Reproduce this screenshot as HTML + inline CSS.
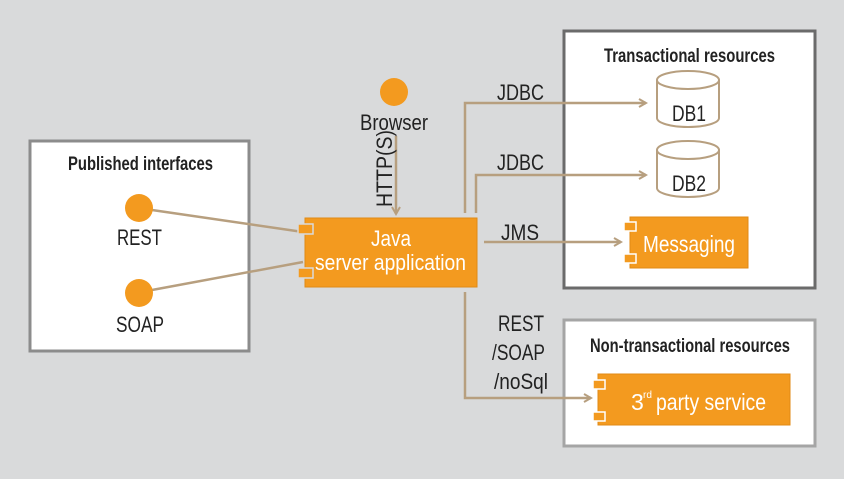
<!DOCTYPE html>
<html><head><style>
body{margin:0;background:#d9dadb;}
svg{display:block}
text{font-family:"Liberation Sans Narrow","Liberation Sans",sans-serif;}
</style></head><body>
<svg width="844" height="479" viewBox="0 0 844 479">
<rect width="844" height="479" fill="#d9dadb"/>
<defs><marker id="a" markerWidth="10" markerHeight="10" refX="8" refY="5" orient="auto" markerUnits="userSpaceOnUse"><path d="M1,1 L8,5 L1,9" fill="none" stroke="#b79f7f" stroke-width="2"/></marker></defs>
<rect x="30" y="141" width="219" height="210" fill="#fff" stroke="#8c8c8c" stroke-width="3"/>
<rect x="564" y="31" width="251" height="257" fill="#fff" stroke="#6b6b6b" stroke-width="3"/>
<rect x="564" y="320" width="251" height="126" fill="#fff" stroke="#a5a5a5" stroke-width="3"/>
<text x="68" y="170" font-size="19" font-weight="bold" fill="#222" textLength="145" lengthAdjust="spacingAndGlyphs">Published interfaces</text>
<text x="604" y="62" font-size="19" font-weight="bold" fill="#222" textLength="171" lengthAdjust="spacingAndGlyphs">Transactional resources</text>
<text x="590" y="352" font-size="19" font-weight="bold" fill="#222" textLength="200" lengthAdjust="spacingAndGlyphs">Non-transactional resources</text>
<g stroke="#b79f7f" stroke-width="2.5" fill="none">
<line x1="152" y1="210" x2="303" y2="232"/>
<line x1="152" y1="290" x2="303" y2="262"/>
<line x1="396" y1="136" x2="396" y2="214" marker-end="url(#a)"/>
<polyline points="465,213 465,103 646,103" marker-end="url(#a)"/>
<polyline points="476,213 476,175 646,175" marker-end="url(#a)"/>
<line x1="484" y1="242" x2="621" y2="242" marker-end="url(#a)"/>
<polyline points="465,292 465,398 591,398" marker-end="url(#a)"/>
</g>
<circle cx="394" cy="92" r="14" fill="#f39a1f"/>
<circle cx="139" cy="208" r="14" fill="#f39a1f"/>
<circle cx="139" cy="293" r="14" fill="#f39a1f"/>
<g font-size="22" fill="#222">
<text x="360" y="130" textLength="68" lengthAdjust="spacingAndGlyphs">Browser</text>
<text x="117" y="245" textLength="45" lengthAdjust="spacingAndGlyphs">REST</text>
<text x="116" y="332" textLength="48" lengthAdjust="spacingAndGlyphs">SOAP</text>
<text transform="translate(392,207) rotate(-90)" textLength="77" lengthAdjust="spacingAndGlyphs">HTTP(S)</text>
<text x="497" y="100" textLength="47" lengthAdjust="spacingAndGlyphs">JDBC</text>
<text x="497" y="170" textLength="47" lengthAdjust="spacingAndGlyphs">JDBC</text>
<text x="501" y="240" textLength="38" lengthAdjust="spacingAndGlyphs">JMS</text>
<text x="498" y="331" textLength="46" lengthAdjust="spacingAndGlyphs">REST</text>
<text x="492" y="360" textLength="53" lengthAdjust="spacingAndGlyphs">/SOAP</text>
<text x="494" y="389" textLength="54" lengthAdjust="spacingAndGlyphs">/noSql</text>
</g>
<rect x="305" y="218" width="172" height="69" fill="#f39a1f" stroke="#e08a15"/>
<rect x="298" y="224" width="15" height="10" fill="#f39a1f" stroke="#d9dadb" stroke-width="1.5"/>
<rect x="298" y="268" width="15" height="10" fill="#f39a1f" stroke="#d9dadb" stroke-width="1.5"/>
<text x="371" y="246" font-size="22" fill="#fff" textLength="40" lengthAdjust="spacingAndGlyphs">Java</text>
<text x="315" y="270" font-size="22" fill="#fff" textLength="151" lengthAdjust="spacingAndGlyphs">server application</text>
<g fill="#fff" stroke="#b79f7f" stroke-width="2">
<path d="M657,80 v38 a31,9 0 0 0 62,0 v-38"/><ellipse cx="688" cy="80" rx="31" ry="9"/>
<path d="M657,150 v38 a31,9 0 0 0 62,0 v-38"/><ellipse cx="688" cy="150" rx="31" ry="9"/>
</g>
<text x="672" y="121" font-size="22" fill="#222" textLength="34" lengthAdjust="spacingAndGlyphs">DB1</text>
<text x="672" y="191" font-size="22" fill="#222" textLength="34" lengthAdjust="spacingAndGlyphs">DB2</text>
<rect x="630" y="217" width="118" height="51" fill="#f39a1f" stroke="#e08a15"/>
<rect x="624" y="222" width="12" height="9" fill="#f39a1f" stroke="#fff" stroke-width="1.5"/>
<rect x="624" y="254" width="12" height="9" fill="#f39a1f" stroke="#fff" stroke-width="1.5"/>
<text x="643" y="252" font-size="23" fill="#fff" textLength="92" lengthAdjust="spacingAndGlyphs">Messaging</text>
<rect x="598" y="374" width="192" height="51" fill="#f39a1f" stroke="#e08a15"/>
<rect x="593" y="380" width="12" height="9" fill="#f39a1f" stroke="#fff" stroke-width="1.5"/>
<rect x="593" y="412" width="12" height="9" fill="#f39a1f" stroke="#fff" stroke-width="1.5"/>
<text x="631" y="410" font-size="23" fill="#fff">3</text>
<text x="643" y="398" font-size="10" fill="#fff" textLength="9" lengthAdjust="spacingAndGlyphs">rd</text>
<text x="656" y="410" font-size="23" fill="#fff" textLength="110" lengthAdjust="spacingAndGlyphs">party service</text>
</svg>
</body></html>
